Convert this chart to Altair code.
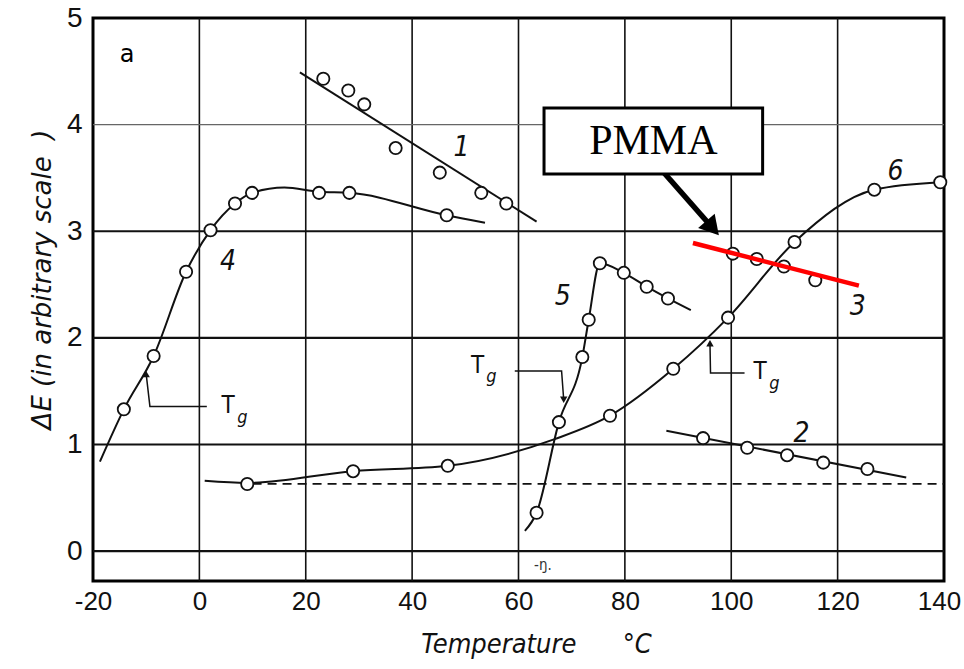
import altair as alt
import pandas as pd

# ---- measured series (temperature in °C, ΔE in arbitrary units) ----
# curve 1: straight fit and measured points
c1_line_t = [18.9, 63.4]
c1_line_e = [4.49, 3.09]
c1_pts_t = [23.3, 28.0, 31.0, 36.9, 45.2, 53.0, 57.7]
c1_pts_e = [4.43, 4.32, 4.19, 3.78, 3.55, 3.36, 3.26]

# curve 2
c2_line_t = [87.8, 132.9]
c2_line_e = [1.13, 0.69]
c2_pts_t = [94.7, 103.0, 110.5, 117.3, 125.6]
c2_pts_e = [1.06, 0.97, 0.90, 0.83, 0.77]

# curve 3 (PMMA, highlighted fit)
c3_line_t = [92.8, 124.0]
c3_line_e = [2.89, 2.49]
c3_pts_t = [100.3, 104.8, 109.9, 115.8]
c3_pts_e = [2.79, 2.74, 2.67, 2.54]

# curve 4
c4_line_t = [-18.7, -14.2, -8.6, -2.5, 2.1, 6.7, 9.9, 16.0, 22.5, 28.2, 46.5, 53.7]
c4_line_e = [0.84, 1.33, 1.83, 2.62, 3.01, 3.26, 3.36, 3.41, 3.37, 3.36, 3.15, 3.08]
c4_pts_t = [-14.2, -8.6, -2.5, 2.1, 6.7, 9.9, 22.5, 28.2, 46.5]
c4_pts_e = [1.33, 1.83, 2.62, 3.01, 3.26, 3.36, 3.36, 3.36, 3.15]

# curve 5
c5_line_t = [61.2, 63.4, 67.6, 72.0, 73.2, 75.3, 79.8, 84.1, 88.1, 92.4]
c5_line_e = [0.19, 0.36, 1.21, 1.82, 2.17, 2.70, 2.61, 2.48, 2.37, 2.26]
c5_pts_t = [63.4, 67.6, 72.0, 73.2, 75.3, 79.8, 84.1, 88.1]
c5_pts_e = [0.36, 1.21, 1.82, 2.17, 2.70, 2.61, 2.48, 2.37]

# curve 6
c6_line_t = [1.0, 9.0, 28.9, 46.7, 66.8, 77.2, 89.1, 99.4, 111.9, 126.9, 139.3]
c6_line_e = [0.66, 0.64, 0.75, 0.80, 1.05, 1.27, 1.71, 2.19, 2.90, 3.39, 3.46]
c6_pts_t = [9.0, 28.9, 46.7, 77.2, 89.1, 99.4, 111.9, 126.9, 139.3]
c6_pts_e = [0.63, 0.75, 0.80, 1.27, 1.71, 2.19, 2.90, 3.39, 3.46]

# dashed reference level
base_t = [10.0, 140.0]
base_e = [0.63, 0.63]

# axis ticks
x_ticks = [-20, 0, 20, 40, 60, 80, 100, 120, 140]
y_ticks = [0, 1, 2, 3, 4, 5]
v_grid = [0, 20, 40, 60, 80, 100, 120]
h_grid_major = [0, 1, 2, 3]
h_grid_minor = [4]

# curve numbers
num_text = ["1", "2", "3", "4", "5", "6"]
num_t = [49.3, 113.2, 123.8, 5.4, 68.3, 130.9]
num_e = [3.78, 1.10, 2.29, 2.71, 2.38, 3.56]

# Tg markers: leader polylines (tip first)
tg4_t = [-10.0, -9.3, 1.4]
tg4_e = [1.66, 1.357, 1.357]
tg5_t = [68.5, 68.1, 59.3]
tg5_e = [1.42, 1.69, 1.69]
tg6_t = [96.0, 96.1, 102.5]
tg6_e = [1.95, 1.67, 1.67]
tg_T_t = [5.4, 52.3, 105.4]
tg_T_e = [1.36, 1.74, 1.68]
tg_g_t = [8.1, 54.9, 108.1]
tg_g_e = [1.25, 1.63, 1.57]

# PMMA call-out box and arrow
box_t = [64.8, 105.9]
box_e = [3.538, 4.155]
arrow_t = [86.9, 96.5]
arrow_e = [3.575, 3.03]


def frame(ts, es, name):
    return pd.DataFrame({"T": ts, "E": es, "curve": name, "k": range(len(ts))})


xs = alt.Scale(domain=[-20, 140], nice=False, zero=False)
ys = alt.Scale(domain=[-0.28, 5], nice=False, zero=False)

TICK_FONT = "Liberation Sans Narrow, Liberation Sans"
HAND_FONT = "DejaVu Sans Condensed, DejaVu Sans"
NBSP = "\u00a0"

x_axis = alt.Axis(
    values=x_ticks, grid=False, ticks=False, domain=False, labelFlush=False,
    labelExpr="toString(datum.value)",
    labelFont=TICK_FONT, labelFontSize=26, labelPadding=7, labelColor="#111",
    labelOffset={"condition": {"test": "datum.value === 140", "value": -5}, "value": 0},
    title="Temperature" + NBSP * 6 + "°C", titleFont=HAND_FONT, titleFontStyle="italic",
    titleFontWeight="normal", titleFontSize=27, titleColor="#111",
    titleX=443, titleY=63, titleBaseline="middle", titleAlign="center",
)
y_axis = alt.Axis(
    values=y_ticks, grid=False, ticks=False, domain=False, labelFlush=False,
    labelFont=TICK_FONT, labelFontSize=28, labelPadding=11, labelColor="#111",
    labelBaseline="middle",
    title="ΔΕ" + NBSP + "(in arbitrary scale" + NBSP * 2 + ")", titleFont="DejaVu Sans",
    titleFontStyle="italic", titleFontWeight="normal", titleFontSize=26, titleColor="#111",
    titleX=-51, titleY=261, titleAngle=270, titleBaseline="middle", titleAlign="center",
)

X = alt.X("T:Q", scale=xs, axis=x_axis)
Y = alt.Y("E:Q", scale=ys, axis=y_axis)

# grid
vgrid = alt.Chart(pd.DataFrame({"T": v_grid})).mark_rule(color="#111", strokeWidth=1.6).encode(x=X)
hgrid = alt.Chart(pd.DataFrame({"E": h_grid_major})).mark_rule(color="#111", strokeWidth=2.2).encode(y=Y)
hgrid_light = alt.Chart(pd.DataFrame({"E": h_grid_minor})).mark_rule(color="#666", strokeWidth=1.2).encode(y=Y)

# dashed level
dashed = alt.Chart(frame(base_t, base_e, "base")).mark_line(
    color="#111", strokeWidth=1.8, strokeDash=[9, 6]
).encode(x=X, y=Y)

# black curves
lines_df = pd.concat([
    frame(c1_line_t, c1_line_e, "1"),
    frame(c2_line_t, c2_line_e, "2"),
    frame(c4_line_t, c4_line_e, "4"),
    frame(c5_line_t, c5_line_e, "5"),
    frame(c6_line_t, c6_line_e, "6"),
])
curves = alt.Chart(lines_df).mark_line(
    color="#111", strokeWidth=2, interpolate="monotone"
).encode(x=X, y=Y, detail="curve:N", order="k:Q")

# measured points
pts_df = pd.concat([
    frame(c1_pts_t, c1_pts_e, "1"),
    frame(c2_pts_t, c2_pts_e, "2"),
    frame(c3_pts_t, c3_pts_e, "3"),
    frame(c4_pts_t, c4_pts_e, "4"),
    frame(c5_pts_t, c5_pts_e, "5"),
    frame(c6_pts_t, c6_pts_e, "6"),
])
points = alt.Chart(pts_df).mark_point(
    shape="circle", size=150, filled=False, fill="white", fillOpacity=1,
    stroke="#111", strokeWidth=1.8, opacity=1
).encode(x=X, y=Y)

# PMMA fit line
red = alt.Chart(frame(c3_line_t, c3_line_e, "3")).mark_line(
    color="#ff0000", strokeWidth=4.5
).encode(x=X, y=Y)

# curve numbers
nums = alt.Chart(pd.DataFrame({"T": num_t, "E": num_e, "txt": num_text})).mark_text(
    font=HAND_FONT, fontSize=28, fontStyle="italic", color="#111"
).encode(x=X, y=Y, text="txt:N")

# Tg leaders
tg_df = pd.concat([
    frame(tg4_t, tg4_e, "a"),
    frame(tg5_t, tg5_e, "b"),
    frame(tg6_t, tg6_e, "c"),
])
tg_lines = alt.Chart(tg_df).mark_line(color="#111", strokeWidth=1.5).encode(
    x=X, y=Y, detail="curve:N", order="k:Q"
)
tips_up = alt.Chart(pd.DataFrame({"T": [tg4_t[0], tg6_t[0]], "E": [tg4_e[0], tg6_e[0]]})).mark_point(
    shape="triangle-up", size=55, filled=True, color="#111", opacity=1
).encode(x=X, y=Y)
tips_down = alt.Chart(pd.DataFrame({"T": [tg5_t[0]], "E": [tg5_e[0]]})).mark_point(
    shape="triangle-down", size=55, filled=True, color="#111", opacity=1
).encode(x=X, y=Y)
tg_T = alt.Chart(pd.DataFrame({"T": tg_T_t, "E": tg_T_e, "txt": ["T"] * 3})).mark_text(
    font=HAND_FONT, fontSize=24, color="#111"
).encode(x=X, y=Y, text="txt:N")
tg_g = alt.Chart(pd.DataFrame({"T": tg_g_t, "E": tg_g_e, "txt": ["g"] * 3})).mark_text(
    font=HAND_FONT, fontSize=18, fontStyle="italic", color="#111"
).encode(x=X, y=Y, text="txt:N")

# panel letter and small mark near the axis
panel = alt.Chart(pd.DataFrame({"T": [-13.6], "E": [4.65], "txt": ["a"]})).mark_text(
    font="DejaVu Sans", fontSize=24, color="#000"
).encode(x=X, y=Y, text="txt:N")
eta = alt.Chart(pd.DataFrame({"T": [64.6], "E": [-0.13], "txt": ["-ŋ."]})).mark_text(
    font=HAND_FONT, fontSize=15, color="#333"
).encode(x=X, y=Y, text="txt:N")

# call-out
box = alt.Chart(pd.DataFrame({"T": [box_t[0]], "T2": [box_t[1]], "E": [box_e[0]], "E2": [box_e[1]]})).mark_rect(
    fill="white", stroke="#000", strokeWidth=3
).encode(x=X, x2="T2:Q", y=Y, y2="E2:Q")
box_label = alt.Chart(pd.DataFrame({"T": [(box_t[0] + box_t[1]) / 2], "E": [(box_e[0] + box_e[1]) / 2],
                                    "txt": ["PMMA"]})).mark_text(
    font="Liberation Serif", fontSize=42, color="#000", baseline="middle"
).encode(x=X, y=Y, text="txt:N")
arrow = alt.Chart(frame(arrow_t, arrow_e, "arrow")).mark_line(color="#000", strokeWidth=5.5).encode(x=X, y=Y)
arrow_head = alt.Chart(pd.DataFrame({"T": [arrow_t[1]], "E": [arrow_e[1]]})).mark_point(
    shape="triangle-up", size=480, filled=True, color="#000", opacity=1, angle=139
).encode(x=X, y=Y)

chart = alt.layer(
    vgrid, hgrid, hgrid_light, dashed, curves, points, red, nums,
    tg_lines, tips_up, tips_down, tg_T, tg_g, panel, eta,
    arrow, box, box_label, arrow_head,
).properties(
    width=851, height=563,
    padding={"left": 93, "top": 18, "right": 20, "bottom": 88},
    autosize=alt.AutoSizeParams(type="none"),
    background="white",
).configure_view(
    stroke="#000", strokeWidth=3
)

chart.save("out.html", embed_options={"renderer": "svg", "actions": False})
